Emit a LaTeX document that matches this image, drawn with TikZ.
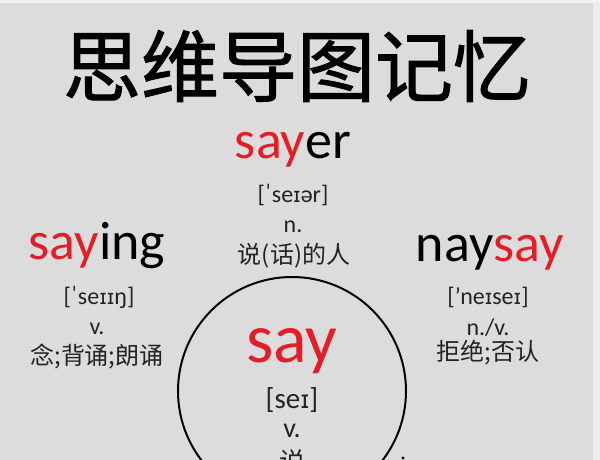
\documentclass[tikz,border=0pt]{standalone}
\usepackage{fontspec}
\setmainfont{Carlito}
\newfontfamily\cjk{Noto Sans CJK SC}
\newfontfamily\cjktitle{Noto Sans CJK SC}[FakeBold=1.3]
\newfontfamily\ipafont{DejaVu Sans}[Scale=0.85]
\usepackage{tikz}
\usetikzlibrary{calc}
\definecolor{bgray}{RGB}{220,220,220}
\definecolor{sayred}{RGB}{228,30,38}
\definecolor{inkgray}{RGB}{35,35,35}
\newcommand\ipI{{\ipafont ɪ}}

\begin{document}
\begin{tikzpicture}[x=1pt,y=-1pt,
    word/.style={anchor=base,inner sep=0pt,font=\fontsize{54}{54}\selectfont,text=black},
    phon/.style={inner sep=0pt,font=\fontsize{24}{24}\selectfont,text=inkgray},
    gloss/.style={inner sep=0pt,font=\cjk\fontsize{24}{24}\selectfont,text=inkgray}
]
\useasboundingbox (0,0) rectangle (600,460);
\clip (0,0) rectangle (600,460);
\fill[bgray] (0,0) rectangle (600,460);
\fill[gray!15] (593,0) rectangle (600,460);
\fill[gray!10] (0,0) rectangle (600,3);

% title
\node[inner sep=0pt,font=\cjktitle\fontsize{78}{78}\selectfont] (title) at (297,66) {思维导图记忆};

% centre word
\node[draw,circle,line width=2pt,minimum size=228pt,inner sep=0pt] (core) at (292,391) {};
\node[word,font=\fontsize{70}{70}\selectfont,text=sayred] (say) at (292,362) {say};
\node[phon,font=\fontsize{29}{29}\selectfont] (sayph) at (292,400) {[se\ipI]};
\node[phon,font=\fontsize{28}{28}\selectfont] (saypos) at (292,431) {v.};
\node[gloss,font=\cjk\fontsize{26}{26}\selectfont] (saycn) at (292,462) {说};
\fill (403,458) circle (1.6);

% sayer
\node[word] (sayer) at (293,158) {\textcolor{sayred}{say}er};
\node[phon] (sayerph) at (293,195) {[ˈse\ipI ər]};
\node[phon] (sayerpos) at (293,227) {n.};
\node[gloss] (sayercn) at (294,256) {说(话)的人};

% saying
\node[word] (saying) at (97,259) {\textcolor{sayred}{say}ing};
\node[phon] (sayingph) at (99,297) {[ˈse\ipI\ipI ŋ]};
\node[phon] (sayingpos) at (97,329) {v.};
\node[gloss] (sayingcn) at (97,356) {念;背诵;朗诵};

% naysay
\node[word] (naysay) at (490,261) {nay\textcolor{sayred}{say}};
\node[phon] (naysayph) at (488,297) {['ne\ipI se\ipI]};
\node[phon] (naysaypos) at (488,328) {n./v.};
\node[gloss] (naysaycn) at (488,353) {拒绝;否认};

\end{tikzpicture}
\end{document}
